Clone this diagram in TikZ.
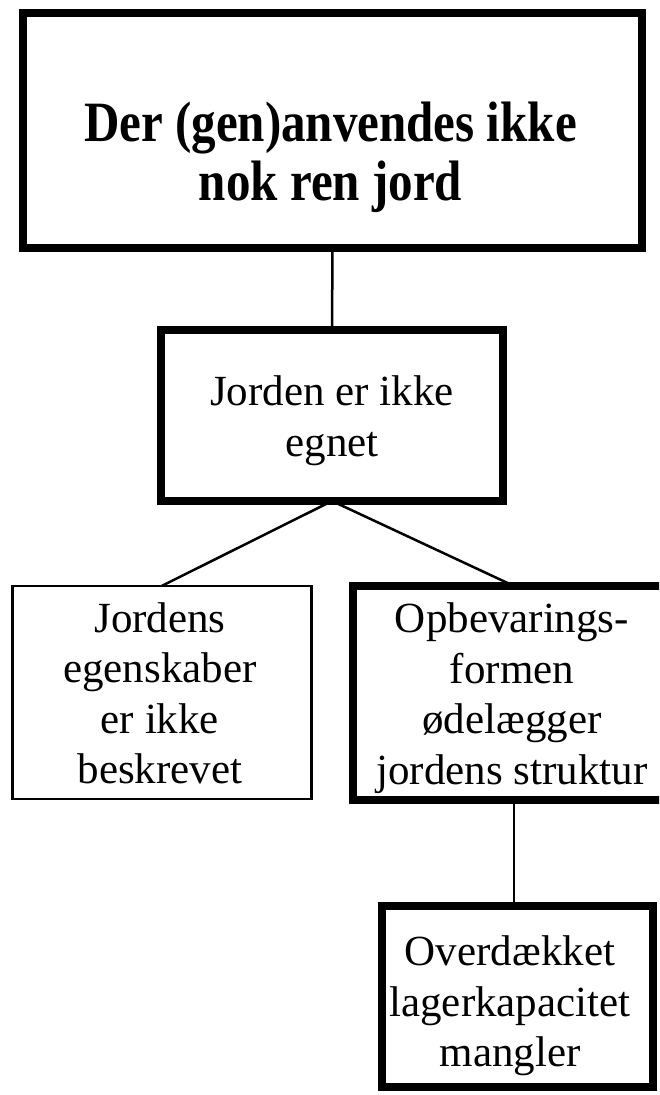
\documentclass[tikz,border=0pt]{standalone}
\usepackage{fontspec}
\setmainfont{Liberation Serif}
% narrow bold face for the heading
\newfontfamily\headfont[FakeStretch=0.86]{Liberation Serif}
\begin{document}
\begin{tikzpicture}[x=1pt,y=1pt,
  frame/.style={draw=black, line width=8pt, inner sep=0pt, outer sep=0pt},
  thinframe/.style={draw=black, line width=2.7pt, inner sep=0pt, outer sep=0pt},
  caption/.style={align=center, anchor=base, inner sep=0pt,
    font=\fontsize{43}{50.5}\selectfont},
  heading/.style={align=center, anchor=base, inner sep=0pt,
    font=\headfont\fontsize{57}{58.7}\selectfont\bfseries},
  link/.style={draw=black, line width=2.5pt}]
\clip (0,0) rectangle (659,-1095);
\fill[white] (0,0) rectangle (659,-1095);

% boxes of the tree
\node[frame, minimum width=619pt, minimum height=235pt] (top) at (332.5,-130.5) {};
\node[frame, minimum width=342pt, minimum height=171pt] (mid) at (332,-415.5) {};
\node[thinframe, minimum width=299pt, minimum height=213pt] (left) at (161.8,-692.4) {};
\node[frame, minimum width=322pt, minimum height=214pt] (right) at (514,-693) {};
\node[frame, minimum width=270.5pt, minimum height=181pt] (low) at (517.25,-996.5) {};

% connectors
\draw[link] (top.south) -- (mid.north);
\draw[link] (mid.south) -- (left.north);
\draw[link] (mid.south) -- (right.north);
\draw[link] (right.south) -- (right.south |- low.north);

% texts, placed by the baseline of their last line
\node[heading] (t-top) at (330.5,-200.4) {Der (gen)anvendes ikke\\nok ren jord};
\node[caption] (t-mid) at (332,-456) {Jorden er ikke~\\egnet};
\node[caption] (t-left) at (160,-783.6) {Jordens\\egenskaber\\er ikke\\beskrevet};
\node[caption] (t-right) at (512,-784) {Opbevarings-\\formen\\ødelægger\\jordens struktur};
\node[caption] (t-low) at (510,-1066.7) {Overdækket\\lagerkapacitet\\mangler};
\end{tikzpicture}
\end{document}
